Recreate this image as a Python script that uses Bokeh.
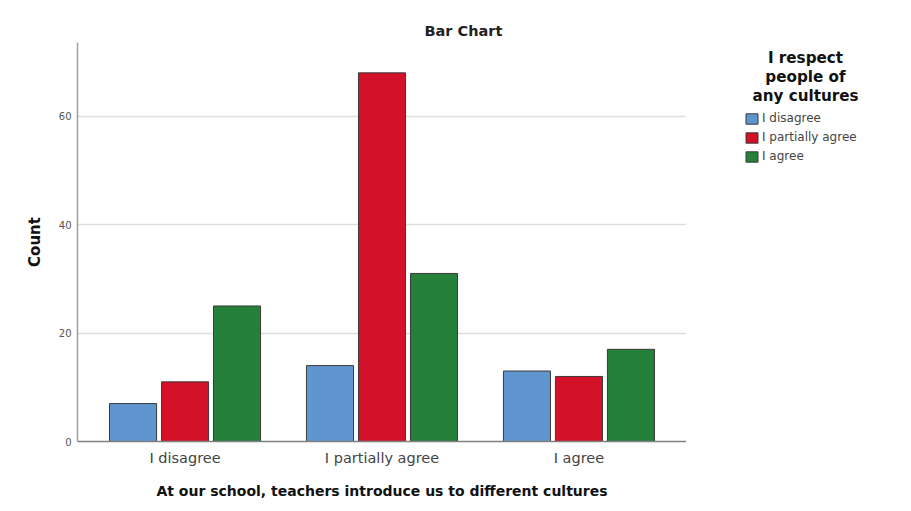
from bokeh.plotting import figure
from bokeh.layouts import row
from bokeh.models import FactorRange, Range1d, FixedTicker, Legend, LegendItem, ColumnDataSource, Label, Title
from bokeh.transform import dodge
from bokeh.embed import file_html
from bokeh.resources import INLINE

categories = ["I disagree", "I partially agree", "I agree"]
series_names = ["I disagree", "I partially agree", "I agree"]
disagree_vals = [7, 14, 13]
partial_vals = [11, 68, 12]
agree_vals = [25, 31, 17]
y_ticks = [0, 20, 40, 60]
colors = ["#6096d0", "#d31129", "#25803a"]
legend_title = "I respect\npeople of\nany cultures"

FONT = "DejaVu Sans"
H = 502
MB = 61

src = ColumnDataSource(dict(cat=categories, d=disagree_vals, p=partial_vals, a=agree_vals))
cols = ["d", "p", "a"]

p = figure(width=686, height=H, output_backend="svg", toolbar_location=None,
           x_range=FactorRange(factors=categories, range_padding=0.046, range_padding_units="absolute"),
           y_range=Range1d(0, 73.6),
           min_border_left=77, min_border_right=0, min_border_top=42, min_border_bottom=MB)

p.title = Title(text="Bar Chart", align="left", offset=347, text_font=FONT,
                text_font_size="14.5px", text_font_style="bold", text_color="#222222", standoff=7)

offsets = [-0.264, 0.0, 0.264]
for off, col, c in zip(offsets, cols, colors):
    p.vbar(x=dodge("cat", off, range=p.x_range), top=col, width=0.239, source=src,
           fill_color=c, line_color="#3a3a3a", line_width=1)

p.xgrid.grid_line_color = None
p.ygrid.grid_line_color = "#dedede"
p.ygrid.grid_line_width = 1.5
p.ygrid.ticker = FixedTicker(ticks=y_ticks)
p.outline_line_color = None

p.yaxis.ticker = FixedTicker(ticks=y_ticks)
p.yaxis.major_tick_line_color = None
p.yaxis.minor_tick_line_color = None
p.yaxis.major_tick_out = 0
p.yaxis.major_tick_in = 0
p.yaxis.axis_line_color = "#a0a0a0"
p.yaxis.axis_line_width = 1.5
p.yaxis.major_label_text_font = FONT
p.yaxis.major_label_text_font_size = "10px"
p.yaxis.major_label_text_color = "#555555"
p.yaxis.major_label_standoff = 6
p.yaxis.axis_label = "Count"
p.yaxis.axis_label_text_font = FONT
p.yaxis.axis_label_text_font_size = "15px"
p.yaxis.axis_label_text_font_style = "bold"
p.yaxis.axis_label_text_color = "#111111"
p.yaxis.axis_label_standoff = 12

p.xaxis.major_tick_line_color = None
p.xaxis.minor_tick_line_color = None
p.xaxis.major_tick_out = 0
p.xaxis.major_tick_in = 0
p.xaxis.axis_line_color = "#808080"
p.xaxis.axis_line_width = 1.5
p.xaxis.major_label_text_font = FONT
p.xaxis.major_label_text_font_size = "14.5px"
p.xaxis.major_label_text_color = "#444444"
p.xaxis.major_label_standoff = 8
p.xaxis.axis_label = "At our school, teachers introduce us to different cultures"
p.xaxis.axis_label_text_font = FONT
p.xaxis.axis_label_text_font_size = "14px"
p.xaxis.axis_label_text_font_style = "bold"
p.xaxis.axis_label_text_color = "#111111"
p.xaxis.axis_label_standoff = 14

# legend panel (its frame is aligned with the main plot's frame by the row layout)
lg = figure(width=209, height=H, output_backend="svg", toolbar_location=None,
            x_range=FactorRange(factors=categories), y_range=Range1d(0, 73.6),
            min_border_left=0, min_border_right=0, min_border_top=42, min_border_bottom=MB)
lg.axis.visible = False
lg.grid.grid_line_color = None
lg.outline_line_color = None

lrs = []
for col, c in zip(cols, colors):
    r = lg.vbar(x="cat", top=col, width=0.5, source=src, fill_color=c,
                line_color="#3a3a3a", line_width=1)
    r.visible = False
    lrs.append(r)

legend = Legend(items=[LegendItem(label=n, renderers=[r]) for n, r in zip(series_names, lrs)],
                location=(58, 278),
                label_text_font=FONT, label_text_font_size="12px", label_text_color="#444444",
                glyph_width=15, glyph_height=13, label_height=13, spacing=5, label_standoff=3,
                border_line_color=None, background_fill_alpha=0, padding=0, margin=0)
lg.add_layout(legend, "center")

lg.add_layout(Label(x=119, y=393, x_units="screen", y_units="screen", text=legend_title,
                    text_align="center", text_baseline="top", text_font=FONT,
                    text_font_size="15.2px", text_font_style="bold", text_color="#111111",
                    text_line_height=1.08))

open("out.html", "w").write(file_html(row(p, lg), INLINE))
